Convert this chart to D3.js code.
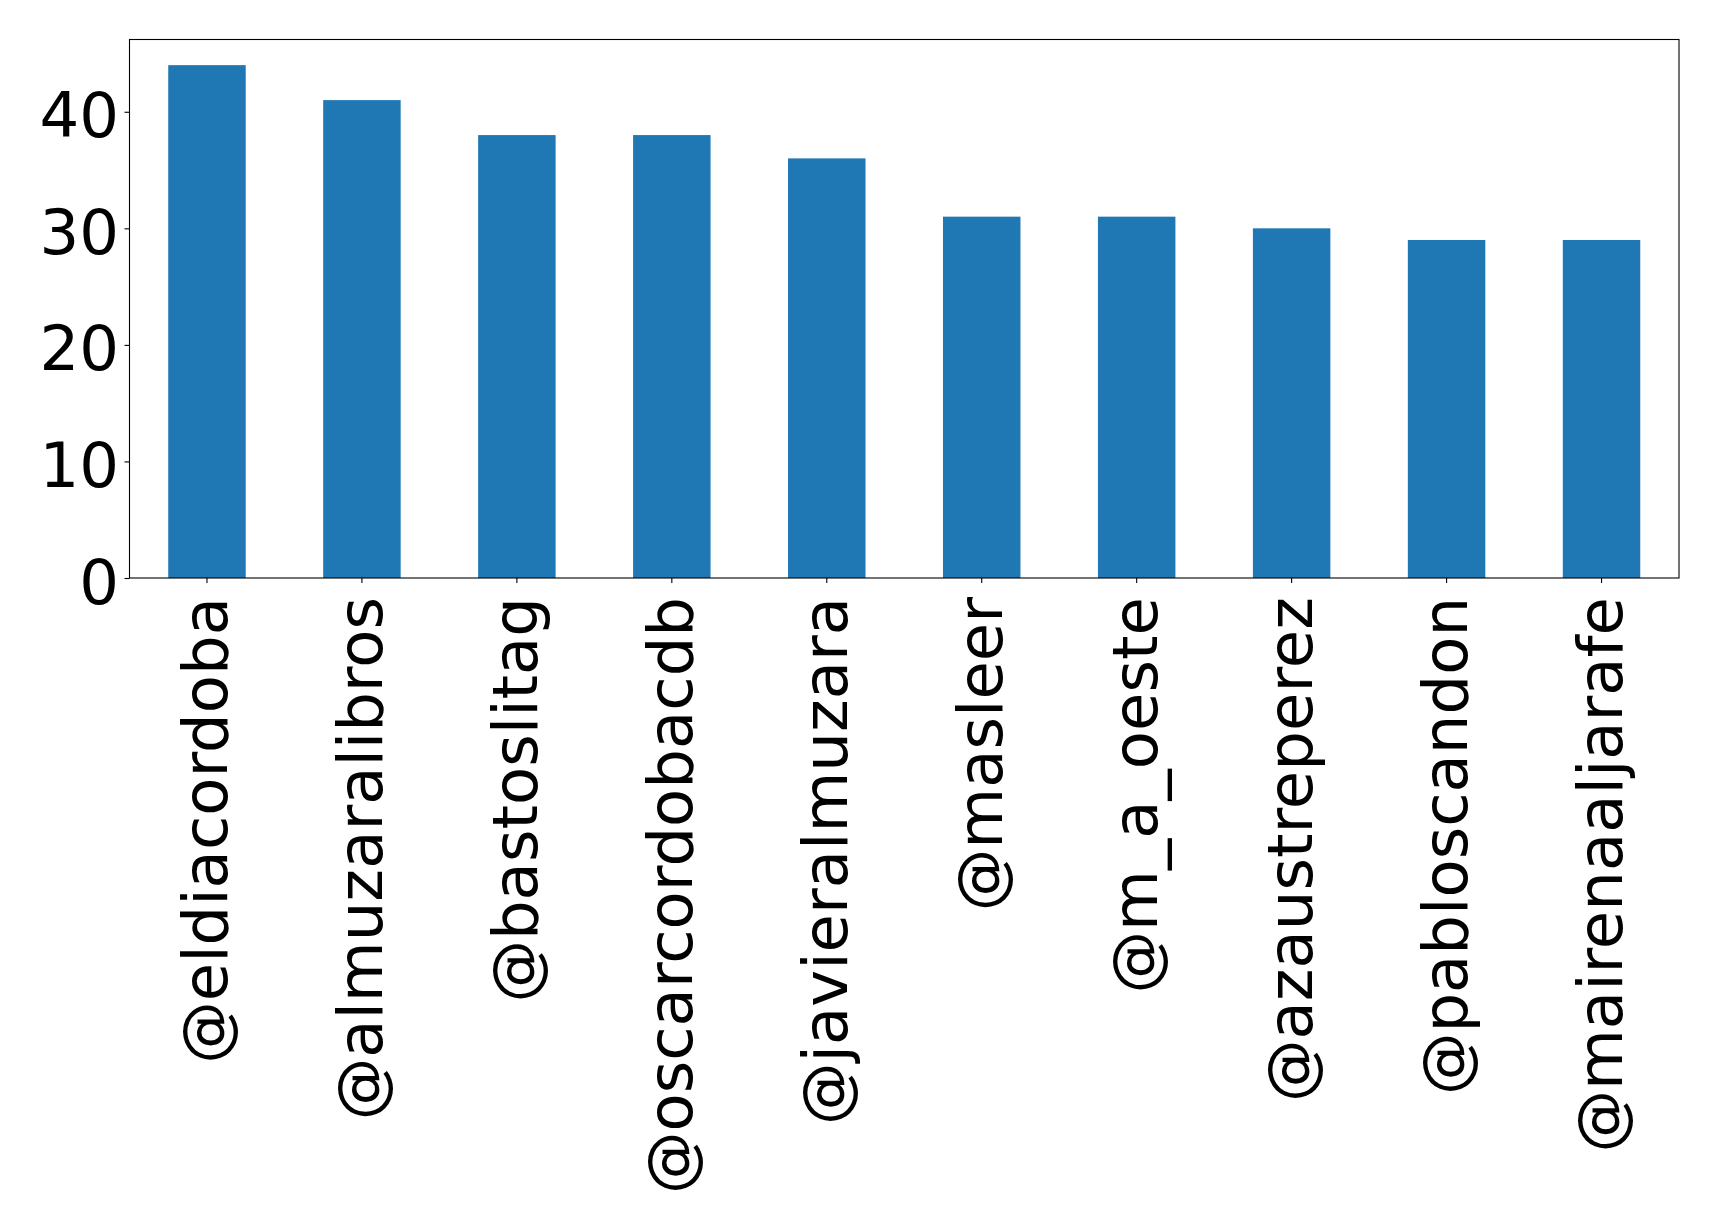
<!DOCTYPE html>
<html>
<head>
<meta charset="utf-8">
<script src="https://cdn.jsdelivr.net/npm/d3@7/dist/d3.min.js"></script>
<style>
  body { margin: 0; background: #fff; }
  svg { display: block; }
  .tick text { font-family: "DejaVu Sans", sans-serif; }
</style>
</head>
<body>
<svg id="plot" width="1719" height="1225"></svg>
<script>
// data
const users = ["@eldiacordoba", "@almuzaralibros", "@bastoslitag", "@oscarcordobacdb", "@javieralmuzara",
               "@masleer", "@m_a_oeste", "@azaustreperez", "@pabloscandon", "@mairenaaljarafe"];
const counts = [44, 41, 38, 38, 36, 31, 31, 30, 29, 29];
const yTicks = [0, 10, 20, 30, 40];

const svg = d3.select("#plot");
const margin = {left: 129.5, right: 40, top: 39.5, bottom: 647};
const W = 1719, H = 1225;
const x0 = margin.left, x1 = W - margin.right;
const y0 = H - margin.bottom, y1 = margin.top;

const x = d3.scaleBand()
  .domain(users)
  .range([x0, x1])
  .paddingInner(0.5)
  .paddingOuter(0.25);

const y = d3.scaleLinear()
  .domain([0, d3.max(counts) * 1.05])
  .range([y0, y1]);

// bars
svg.append("g")
  .selectAll("rect")
  .data(counts)
  .enter()
  .append("rect")
    .attr("x", (d, i) => x(users[i]))
    .attr("y", d => y(d))
    .attr("width", x.bandwidth())
    .attr("height", d => y(0) - y(d))
    .attr("fill", "#1f77b4");

// y axis
const yAxis = svg.append("g")
  .attr("transform", `translate(${x0},0)`)
  .call(d3.axisLeft(y).tickValues(yTicks).tickSize(5).tickPadding(0));
yAxis.select(".domain").remove();
yAxis.selectAll(".tick line").attr("stroke", "#000").attr("stroke-width", 1.1);
yAxis.selectAll(".tick text")
  .attr("x", -10.5)
  .attr("dy", 25)
  .attr("fill", "#000")
  .style("font-size", "62.5px");

// x axis, labels turned up
const xAxis = svg.append("g")
  .attr("transform", `translate(0,${y0})`)
  .call(d3.axisBottom(x).tickSize(5).tickPadding(0));
xAxis.select(".domain").remove();
xAxis.selectAll(".tick line").attr("stroke", "#000").attr("stroke-width", 1.1);
xAxis.selectAll(".tick text")
  .attr("transform", "rotate(-90)")
  .attr("text-anchor", "end")
  .attr("x", -19)
  .attr("y", 20)
  .attr("dy", 0)
  .attr("fill", "#000")
  .style("font-size", "62.5px");

// frame
svg.append("rect")
  .attr("x", x0)
  .attr("y", y1)
  .attr("width", x1 - x0)
  .attr("height", y0 - y1)
  .attr("fill", "none")
  .attr("stroke", "#000")
  .attr("stroke-width", 1.1);
</script>
</body>
</html>
